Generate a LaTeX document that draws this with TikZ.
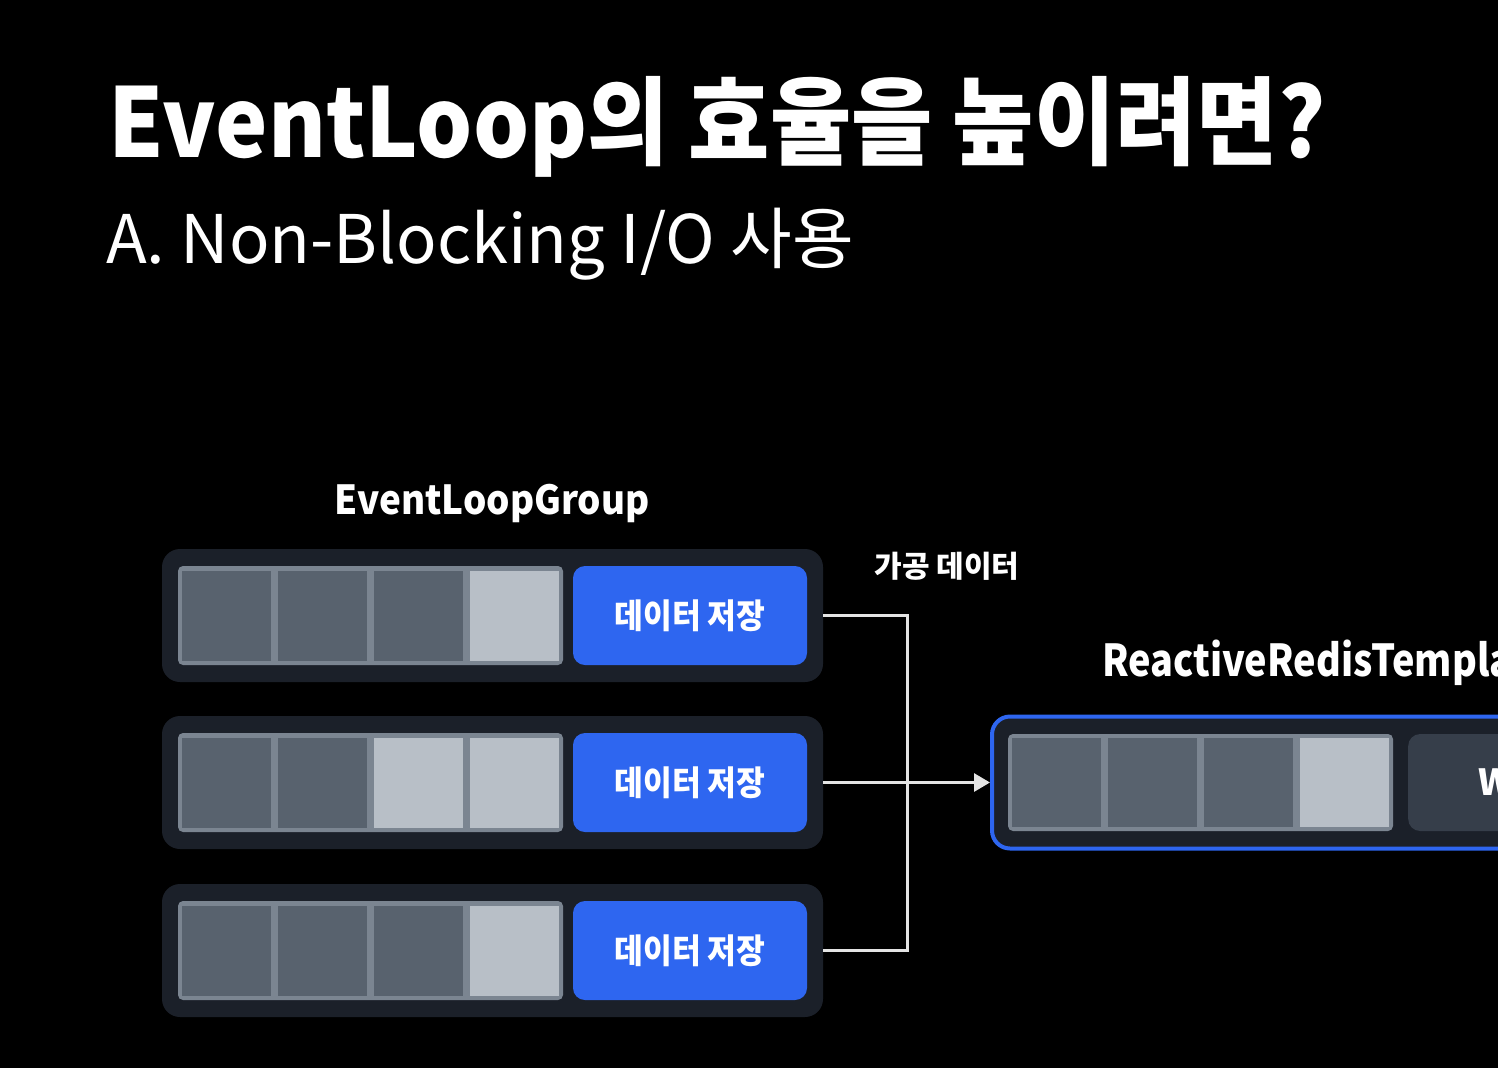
\documentclass[tikz,border=0pt]{standalone}
\usepackage{fontspec}
\setmainfont{Noto Sans CJK KR}
\newfontfamily\narrowfont[FakeStretch=0.92]{Noto Sans CJK KR}
\newfontfamily\slimfont[FakeStretch=0.86]{Noto Sans CJK KR}
\usetikzlibrary{arrows.meta,positioning}
\definecolor{RowFill}{HTML}{1B2029}
\definecolor{CellDark}{HTML}{58626E}
\definecolor{CellLight}{HTML}{B8BFC7}
\definecolor{CellEdge}{HTML}{7B8591}
\definecolor{SaveBlue}{HTML}{2E66F0}
\definecolor{BtnDark}{HTML}{363E4A}
\definecolor{Wire}{HTML}{E4E4E4}
\begin{document}
\begin{tikzpicture}[x=1pt,y=-1pt,
  rowbox/.style={fill=RowFill,rounded corners=18pt,minimum width=661pt,minimum height=133pt,inner sep=0},
  strip/.style={fill=CellEdge,rounded corners=5pt,minimum width=385pt,minimum height=99pt,inner sep=0},
  savebtn/.style={fill=SaveBlue,rounded corners=12pt,minimum width=234pt,minimum height=99pt,inner sep=0,text=white,font=\narrowfont\fontsize{34}{40}\selectfont\bfseries},
  wire/.style={draw=Wire,line width=3pt}]
\fill[black] (0,0) rectangle (1498,1068);
\useasboundingbox (0,0) rectangle (1498,1068);
\clip (0,0) rectangle (1498,1068);
\node[anchor=base west,inner sep=0,text=white,font=\narrowfont\fontsize{96}{110}\selectfont\bfseries] (title) at (108,157) {EventLoop의 효율을 높이려면?};
\node[anchor=base west,inner sep=0,text=white,font=\fontsize{67}{80}\selectfont] (subtitle) at (106,263) {A. Non-Blocking I/O 사용};
\node[anchor=base,inner sep=0,text=white,font=\narrowfont\fontsize{40}{48}\selectfont\bfseries] (grouplab) at (492,514) {EventLoopGroup};
% three event loops
\foreach \i/\y/\c in {1/615.5/CellDark,2/782.5/CellLight,3/950.5/CellDark}{
  \node[rowbox] (row\i) at (492.5,\y) {};
  \node[strip] (strip\i) at (370.5,\y) {};
  \foreach \k in {0,1}{\fill[CellDark] (182+\k*96,\y-45) rectangle ++(89,90);}
  \fill[\c] (182+2*96,\y-45) rectangle ++(89,90);
  \fill[CellLight] (182+3*96,\y-45) rectangle ++(89,90);
  \node[savebtn] (save\i) at (690,\y) {데이터 저장};
}
% redis template
\node[anchor=base west,inner sep=0,text=white,font=\slimfont\fontsize{44}{52}\selectfont\bfseries] (redislab) at (1102,676) {ReactiveRedisTempla};
\node[draw=SaveBlue,line width=4pt,fill=RowFill,rounded corners=18pt,minimum width=600pt,minimum height=132pt,inner sep=0,anchor=west] (redis) at (990,782.5) {};
\node[strip,minimum height=97pt] (strip4) at (1200.5,782.5) {};
\foreach \k in {0,1,2}{\fill[CellDark] (1012+\k*96,738) rectangle ++(89,89);}
\fill[CellLight] (1012+3*96,738) rectangle ++(89,89);
\node[fill=BtnDark,rounded corners=12pt,minimum width=200pt,minimum height=97pt,anchor=west,inner sep=0] (write) at (1408,782.5) {};
\node[anchor=west,inner sep=0,text=white,font=\fontsize{36}{40}\selectfont\bfseries] (writelab) at (1478,782.5) {W};
% wires
\coordinate (bus) at (907,782.5);
\draw[wire] (row1.east) -| (bus) |- (row3.east);
\draw[wire,-{Triangle[length=16pt,width=18pt]}] (row2.east) -- (redis.west);
\node[anchor=base,inner sep=0,text=white,font=\fontsize{30}{36}\selectfont\bfseries] (datalab) at (947,577) {가공 데이터};
\end{tikzpicture}
\end{document}
